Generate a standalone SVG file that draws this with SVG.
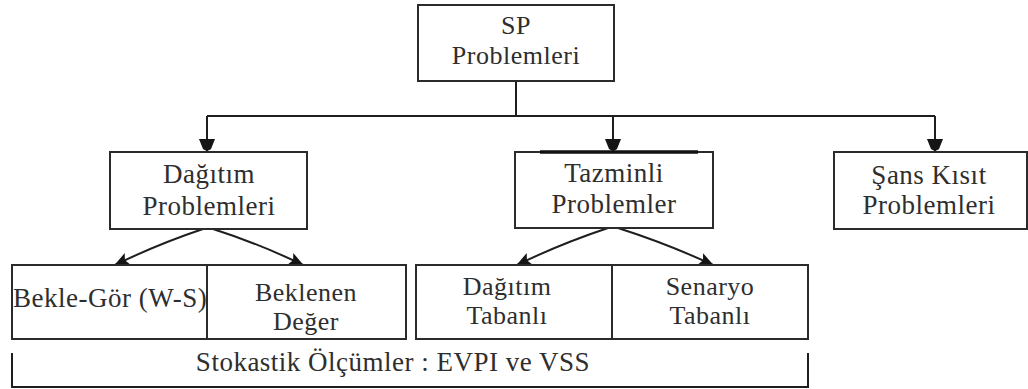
<svg xmlns="http://www.w3.org/2000/svg" width="1028" height="389" viewBox="0 0 1028 389">
  <style>
    .box { fill: #ffffff; stroke: #2b2b2b; stroke-width: 2; }
    .lbl { font-family: "Liberation Serif", "Times New Roman", serif; font-size: 26px; letter-spacing: 0.5px; fill: #2e2e2e; text-anchor: middle; }
    .big { font-size: 27px; }
    .wire { fill: none; stroke: #1e1e1e; stroke-width: 2; }
  </style>
  <defs>
    <marker id="headDown" viewBox="0 0 14 16" refX="13" refY="8" markerWidth="14" markerHeight="16" markerUnits="userSpaceOnUse" orient="auto">
      <path d="M0,0 L10,4 Q13.5,8 10,12 L0,16 z" fill="#151515"/>
    </marker>
    <marker id="headDiag" viewBox="0 0 15 13" refX="14" refY="6.5" markerWidth="15" markerHeight="13" markerUnits="userSpaceOnUse" orient="auto">
      <path d="M0,0 L15,6.5 L0,13 L3,6.5 z" fill="#151515"/>
    </marker>
  </defs>

  <rect width="1028" height="389" fill="#ffffff"/>

  <!-- connectors -->
  <g id="connectors">
    <path class="wire" d="M516,81 V116"/>
    <path class="wire" d="M207,116 H935"/>
    <path class="wire" d="M207,116 V152" marker-end="url(#headDown)"/>
    <path class="wire" d="M613,116 V152" marker-end="url(#headDown)"/>
    <path class="wire" d="M935,116 V152" marker-end="url(#headDown)"/>
    <path class="wire" d="M203,229 Q158,244 115,265" marker-end="url(#headDiag)"/>
    <path class="wire" d="M213,229 Q260,244 303,265" marker-end="url(#headDiag)"/>
    <path class="wire" d="M608,228 Q560,244 517,265" marker-end="url(#headDiag)"/>
    <path class="wire" d="M618,228 Q668,244 713,265" marker-end="url(#headDiag)"/>
  </g>

  <!-- root -->
  <g id="sp-problemleri">
    <rect class="box" x="418" y="5" width="196" height="76"/>
    <text class="lbl" x="516" y="34">SP</text>
    <text class="lbl" x="516" y="64">Problemleri</text>
  </g>

  <!-- second level -->
  <g id="dagitim-problemleri">
    <rect class="box" x="110" y="152" width="197" height="77"/>
    <text class="lbl big" x="209" y="183">Dağıtım</text>
    <text class="lbl big" x="209" y="215">Problemleri</text>
  </g>

  <g id="tazminli-problemler">
    <rect class="box" x="515" y="152" width="198" height="76"/>
    <line x1="540" y1="152" x2="698" y2="152" stroke="#111111" stroke-width="3.5"/>
    <text class="lbl big" x="614" y="182">Tazminli</text>
    <text class="lbl big" x="614" y="213">Problemler</text>
  </g>

  <g id="sans-kisit-problemleri">
    <rect class="box" x="834" y="152" width="193" height="77"/>
    <text class="lbl big" x="929" y="184">Şans Kısıt</text>
    <text class="lbl big" x="929" y="214">Problemleri</text>
  </g>

  <!-- third level -->
  <g id="bekle-gor">
    <rect class="box" x="12" y="265" width="195" height="74"/>
    <text class="lbl big" x="13" y="307" style="text-anchor: start">Bekle-Gör (W-S)</text>
  </g>

  <g id="beklenen-deger">
    <rect class="box" x="207" y="265" width="199" height="74"/>
    <text class="lbl" x="306" y="301">Beklenen</text>
    <text class="lbl" x="306" y="330">Değer</text>
  </g>

  <g id="dagitim-tabanli">
    <rect class="box" x="416" y="265" width="196" height="74"/>
    <text class="lbl" x="507" y="295">Dağıtım</text>
    <text class="lbl" x="507" y="324">Tabanlı</text>
  </g>

  <g id="senaryo-tabanli">
    <rect class="box" x="612" y="265" width="196" height="74"/>
    <text class="lbl" x="710" y="295">Senaryo</text>
    <text class="lbl" x="710" y="324">Tabanlı</text>
  </g>

  <!-- measures bracket -->
  <g id="stokastik-olcumler">
    <path class="wire" d="M12,353 V387 H808 V353"/>
    <text class="lbl big" x="393" y="371">Stokastik Ölçümler : EVPI ve VSS</text>
  </g>
</svg>
